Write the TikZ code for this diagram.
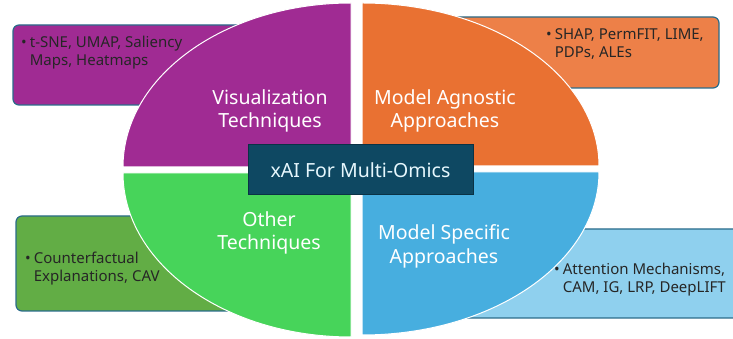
\documentclass[tikz,border=0pt]{standalone}
\usepackage{fontspec}
\setmainfont{Noto Sans}
\usetikzlibrary{positioning}

\definecolor{vispurple}{HTML}{A02B93}
\definecolor{agnorange}{HTML}{E97132}
\definecolor{agnlight}{HTML}{ED8048}
\definecolor{othgreen}{HTML}{47D45A}
\definecolor{othdark}{HTML}{62AD45}
\definecolor{specblue}{HTML}{47AEDF}
\definecolor{speclight}{HTML}{8FD0EE}
\definecolor{hubteal}{HTML}{0E4862}
\definecolor{edgeteal}{HTML}{2A6B8A}

\begin{document}
\begin{tikzpicture}[x=1pt,y=1pt,
  infobox/.style={draw=edgeteal, line width=1.2pt, rounded corners=6pt, inner sep=0pt},
  quarter/.style={draw=white, line width=1pt},
  quadlabel/.style={text=white, align=center, font=\fontsize{19.5}{23.4}\selectfont},
  itemtext/.style={anchor=base west, inner sep=0pt, text=black!85, font=\fontsize{15}{18}\selectfont}]
\clip (0,0) rectangle (733,339);
\useasboundingbox (0,0) rectangle (733,339);

% side boxes, behind the ellipse
\node[infobox, fill=vispurple, minimum width=247pt, minimum height=80pt] (vis-box) at (136.5,274) {};
\node[infobox, fill=agnlight, minimum width=269pt, minimum height=71pt] (agn-box) at (584.5,286.5) {};
\node[infobox, fill=othdark, minimum width=244pt, minimum height=95pt] (oth-box) at (138,75.5) {};
\node[infobox, fill=speclight, minimum width=295pt, minimum height=89pt] (spec-box) at (597.5,65.5) {};

% the four quarters
\fill[quarter, fill=vispurple]
     (351,172) coordinate (vis-corner)
  -- (123,172) arc[start angle=180, end angle=90, x radius=228, y radius=164]
  -- cycle;
\fill[quarter, fill=agnorange]
     (362,173) coordinate (agn-corner)
  -- (362,336) arc[start angle=90, end angle=0, x radius=237, y radius=163]
  -- cycle;
\fill[quarter, fill=othgreen]
     (351,166) coordinate (oth-corner)
  -- (351,2) arc[start angle=270, end angle=180, x radius=228, y radius=164]
  -- cycle;
\fill[quarter, fill=specblue]
     (362,167) coordinate (spec-corner)
  -- (599,167) arc[start angle=0, end angle=-90, x radius=237, y radius=163]
  -- cycle;

% labels
\node[quadlabel] (vis-label) at (270,228) {Visualization\\Techniques};
\node[quadlabel] (agn-label) at (445,228) {Model Agnostic\\Approaches};
\node[quadlabel] (oth-label) at (269,106) {Other\\Techniques};
\node[quadlabel] (spec-label) at (444,92.5) {Model Specific\\Approaches};

\node[itemtext] (vis-items) at (21,291.5)
  {\begin{tabular}[t]{@{}l@{\hspace{3pt}}l@{}}\textbullet & t-SNE, UMAP, Saliency\\ & Maps, Heatmaps\end{tabular}};
\node[itemtext] (agn-items) at (546,299.5)
  {\begin{tabular}[t]{@{}l@{\hspace{3pt}}l@{}}\textbullet & SHAP, PermFIT, LIME,\\ & PDPs, ALEs\end{tabular}};
\node[itemtext] (oth-items) at (25,75.7)
  {\begin{tabular}[t]{@{}l@{\hspace{3pt}}l@{}}\textbullet & Counterfactual\\ & Explanations, CAV\end{tabular}};
\node[itemtext] (spec-items) at (554,64)
  {\begin{tabular}[t]{@{}l@{\hspace{3pt}}l@{}}\textbullet & Attention Mechanisms,\\ & CAM, IG, LRP, DeepLIFT\end{tabular}};

% hub
\node[draw=hubteal!70!black, line width=1pt, fill=hubteal, text=white!90!cyan,
      minimum width=225pt, minimum height=50pt,
      font=\fontsize{19.5}{22}\selectfont] (hub) at (360.5,169) {xAI For Multi-Omics};
\end{tikzpicture}
\end{document}
